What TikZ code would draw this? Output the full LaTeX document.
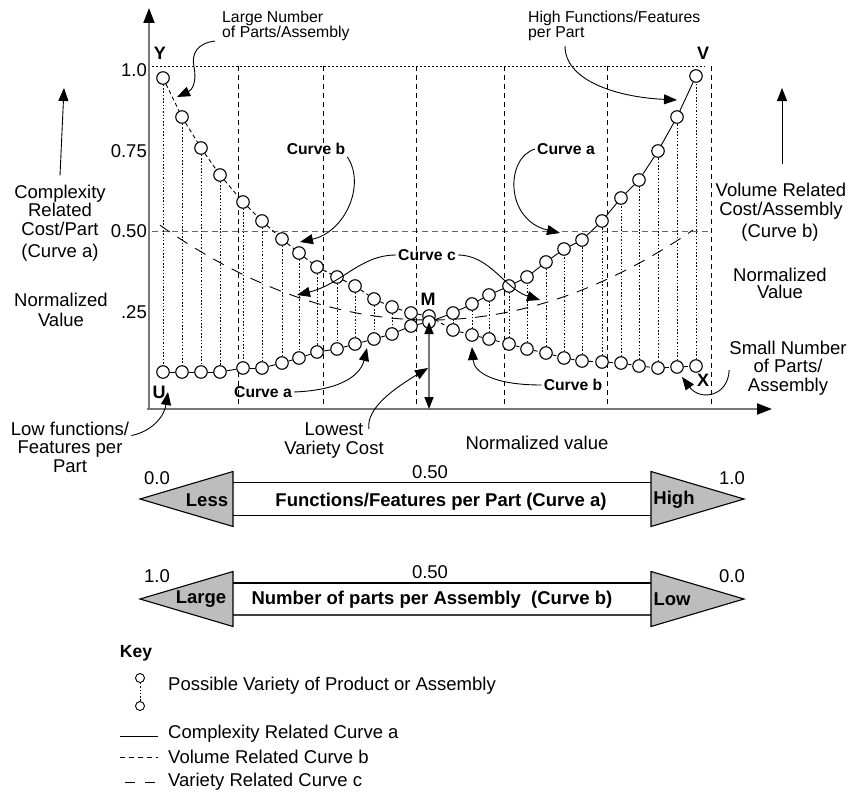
\documentclass[tikz,border=0pt]{standalone}
\usepackage{fontspec}
\setmainfont{Liberation Sans}
\usetikzlibrary{arrows.meta}
\definecolor{axisgray}{HTML}{777777}
\definecolor{headgray}{HTML}{BDBDBD}
\definecolor{midgray}{HTML}{666666}
\begin{document}
\begin{tikzpicture}[x=1pt,y=-1pt,
  vc/.style={circle,draw,fill=white,minimum size=12.5pt,inner sep=0pt,line width=1.1pt},
  kc/.style={circle,draw,fill=white,minimum size=9pt,inner sep=0pt,line width=0.9pt},
  txt/.style={font=\fontsize{18.5}{18.5}\selectfont,inner sep=0pt,align=center},
  smalltxt/.style={font=\fontsize{15.8}{15}\selectfont,inner sep=0pt,align=left},
  clab/.style={font=\fontsize{15.7}{16}\selectfont\bfseries,inner sep=2pt},
  ltr/.style={font=\fontsize{18}{18}\selectfont\bfseries,inner sep=0pt},
  bartxt/.style={font=\fontsize{18.5}{18.5}\selectfont\bfseries,inner sep=0pt},
  keytxt/.style={font=\fontsize{18.5}{18.5}\selectfont,inner sep=0pt,anchor=west},
  ptr/.style={-{Triangle[length=13pt,width=10pt]},line width=0.9pt},
  vgrid/.style={dash pattern=on 5pt off 4pt,line width=0.8pt},
  conn/.style={dash pattern=on 1.5pt off 1.8pt,line width=0.8pt},
  bline/.style={dash pattern=on 4pt off 3pt,line width=0.9pt},
  aline/.style={line width=0.9pt},
  cline/.style={dash pattern=on 12pt off 9pt,line width=0.9pt},
  axisline/.style={axisgray,line width=2pt,-{Triangle[length=15pt,width=11pt,color=black]}},
  headtri/.style={draw,fill=headgray,line width=1.1pt,line join=miter},
  barline/.style={line width=1.1pt}
]
\useasboundingbox (0,0) rectangle (864,792);

% ---------- reference lines of the chart ----------
\draw[dash pattern=on 2pt off 2pt,line width=0.8pt] (152,66) -- (705,66);
\draw[midgray,dash pattern=on 6pt off 4pt,line width=0.9pt] (152,231) -- (711,231);
\foreach \gx in {238,323,416,504,607,711}
  \draw[vgrid] (\gx,66) -- (\gx,409);

% ---------- variety curve c ----------
\draw[cline] plot[domain=160:693,samples=90] (\x,{320-((\x-430)/27.735)^2});

% ---------- axes ----------
\coordinate (origin) at (149,409);
\coordinate (ytip) at (149,8);
\coordinate (xtip) at (772,409);
\draw[axisline] (origin) -- (ytip);
\draw[axisline] ([xshift=-2pt]origin) -- (xtip);

% ---------- points of curves a and b ----------
\foreach \px/\ya/\yb [count=\i from 0] in {
  163/372/78, 182/372/117, 201/372/148, 220/372/175, 243/368/202,
  262/368/221, 282/363/239, 299/358/253, 317/352/267, 337/349/277,
  355/344/286, 374/339/299, 392/334/307, 411/326/313, 429/322/316,
  453/313/330, 472/304/335, 489/295/339, 509/286/344, 527/277/349,
  546/262/353, 564/249/358, 582/240/361, 602/221/362, 621/198/363,
  639/180/366, 658/151/368, 677/117/367, 696/76/366}
{
  \node[vc] (b\i) at (\px,\yb) {};
  \node[vc] (a\i) at (\px,\ya) {};
}
\foreach \i [remember=\i as \p (initially 0)] in {1,...,28} {
  \draw[aline] (a\p) -- (a\i);
  \draw[bline] (b\p) -- (b\i);
}
\foreach \i in {0,...,13,15,16,...,28}
  \draw[conn] (b\i) -- (a\i);

% ---------- lowest variety cost ----------
\coordinate (mbase) at (429,409);
\draw[axisgray,line width=1.6pt,
  {Triangle[length=12pt,width=9pt,color=black]}-{Triangle[length=12pt,width=9pt,color=black]}]
  (a14.center) -- (mbase);

% ---------- corner letters ----------
\node[ltr] (ly) at (160,53) {Y};
\node[ltr] (lv) at (703,53) {V};
\node[ltr] (lu) at (159,392) {U};
\node[ltr] (lx) at (703,380) {X};
\node[ltr] (lm) at (428,299) {M};

% ---------- y axis values ----------
\node[txt,anchor=east] (v100) at (147,70) {1.0};
\node[txt,anchor=east] (v075) at (147,151) {0.75};
\node[txt,anchor=east] (v050) at (147,231) {0.50};
\node[txt,anchor=east] (v025) at (147,312) {.25};

% ---------- side captions ----------
\node[txt] (lcx) at (60,210) {Complexity\\Related\\Cost/Part};
\node[txt] (lca) at (60,253) {(Curve a)};
\node[txt,font=\fontsize{18.5}{20}\selectfont] (lnv) at (61,310) {Normalized\\Value};
\coordinate (lup) at (64,88);
\draw[ptr] ([yshift=9pt]lcx.north) -- (lup);

\node[txt] (rvr) at (781,201) {Volume Related\\Cost/Assembly};
\node[txt] (rcb) at (780,233) {(Curve b)};
\node[txt,font=\fontsize{18.5}{17.5}\selectfont] (rnv) at (780,283.5) {Normalized\\Value};
\coordinate (rup) at (782,88);
\draw[ptr] ([xshift=1pt,yshift=19pt]rvr.north) -- (rup);

\node[txt] (nval) at (537,443) {Normalized value};

% ---------- annotations with arrows ----------
\node[smalltxt,anchor=west] (ln) at (222,26) {Large Number\\of Parts/Assembly};
\coordinate (tlg) at (177,97);
\draw[ptr] ([xshift=-7pt]ln.south west) .. controls (198,43) and (191,53) .. (194,67)
  .. controls (197,82) and (192,90) .. (tlg);

\node[smalltxt,anchor=west] (hf) at (528,26) {High Functions/Features\\per Part};
\coordinate (thf) at (677,100);
\draw[ptr] ([xshift=37pt,yshift=-5pt]hf.south west) .. controls (565,80) and (615,97) .. (thf);

\node[clab] (cb1) at (316,149) {Curve b};
\coordinate (tcb1) at (300,242);
\draw[ptr] (cb1.south east) .. controls (366,185) and (345,232) .. (tcb1);

\node[clab] (ca1) at (566,149) {Curve a};
\coordinate (tca1) at (560,233);
\draw[ptr] (ca1.west) .. controls (505,158) and (505,220) .. (tca1);

\node[clab] (cc) at (427,255) {Curve c};
\coordinate (tccl) at (297,295);
\coordinate (tccr) at (540,300);
\draw[ptr] (cc.west) .. controls (360,255) and (342,284) .. (tccl);
\draw[ptr] (cc.east) .. controls (490,255) and (505,289) .. (tccr);

\node[clab] (ca2) at (263,392) {Curve a};
\coordinate (tca2) at (367,348);
\draw[ptr] (ca2.east) .. controls (345,390) and (361,373) .. (tca2);

\node[clab] (cb2) at (573,385) {Curve b};
\coordinate (tcb2) at (472,347);
\draw[ptr] (cb2.west) .. controls (495,385) and (474,373) .. (tcb2);

\node[txt] (lw) at (334,440.5) {Lowest\\Variety Cost};
\coordinate (tlw) at (428,368);
\draw[ptr] ([xshift=-15pt,yshift=-6pt]lw.north east) .. controls (366,408) and (395,388) .. (tlw);

\node[txt] (lf) at (70,447) {Low functions/\\Features per\\Part};
\coordinate (tlf) at (168,392);
\draw[ptr] ([xshift=2pt,yshift=-14pt]lf.north east) .. controls (150,432) and (164,418) .. (tlf);

\node[txt] (sn) at (788,368) {Small Number\\of Parts/\\Assembly};
\coordinate (tsn) at (682,377);
\draw[ptr] ([yshift=-2pt]sn.west) .. controls (728,397) and (700,401) .. (tsn);

% ---------- scale bar: functions/features per part ----------
\draw[barline] (233,482.5) -- (651,482.5) (233,515.5) -- (651,515.5);
\path[headtri] (140,499) -- (233,471.5) -- (233,526.5) -- cycle;
\path[headtri] (744,499) -- (651,471.5) -- (651,526.5) -- cycle;
\node[txt] (s1a) at (157,478) {0.0};
\node[txt] (s1b) at (430,472) {0.50};
\node[txt] (s1c) at (732,478) {1.0};
\node[bartxt] (less) at (207,500) {Less};
\node[bartxt] (fpp) at (441,502) {Functions/Features per Part (Curve a)};
\node[bartxt] (high) at (674,500) {High};

% ---------- scale bar: number of parts per assembly ----------
\draw[barline] (233,583) -- (651,583);
\draw[barline,line width=1.4pt,black!75] (233,615) -- (651,615);
\path[headtri] (140,599) -- (233,571.5) -- (233,626.5) -- cycle;
\path[headtri] (744,599) -- (651,571.5) -- (651,626.5) -- cycle;
\node[txt] (s2a) at (157,576) {1.0};
\node[txt] (s2b) at (430,572) {0.50};
\node[txt] (s2c) at (732,576) {0.0};
\node[bartxt] (large) at (201,599) {Large};
\node[bartxt] (npa) at (432,600) {Number of parts per Assembly\ \ (Curve b)};
\node[bartxt] (low) at (672,599) {Low};

% ---------- key ----------
\node[font=\fontsize{17.5}{17.5}\selectfont\bfseries,inner sep=0pt] (key) at (136,653) {Key};
\node[kc] (k1) at (140,678) {};
\node[kc] (k2) at (140,706) {};
\draw[conn] (k1) -- (k2);
\node[keytxt] (kt1) at (168,686) {Possible Variety of Product or Assembly};
\node[keytxt] (kt2) at (168,734) {Complexity Related Curve a};
\node[keytxt] (kt3) at (168,757) {Volume Related Curve b};
\node[keytxt] (kt4) at (168,782) {Variety Related Curve c};
\coordinate (ks2) at (120,736);
\coordinate (ks3) at (120,757);
\coordinate (ks4) at (125,782);
\draw[aline] (ks2) -- ([xshift=-10pt,yshift=-2pt]kt2.west);
\draw[line width=0.9pt,dash pattern=on 5pt off 4pt] (ks3) -- ([xshift=-10pt]kt3.west);
\draw[line width=0.9pt,dash pattern=on 10pt off 10pt] (ks4) -- ([xshift=-13pt]kt4.west);
\end{tikzpicture}
\end{document}
